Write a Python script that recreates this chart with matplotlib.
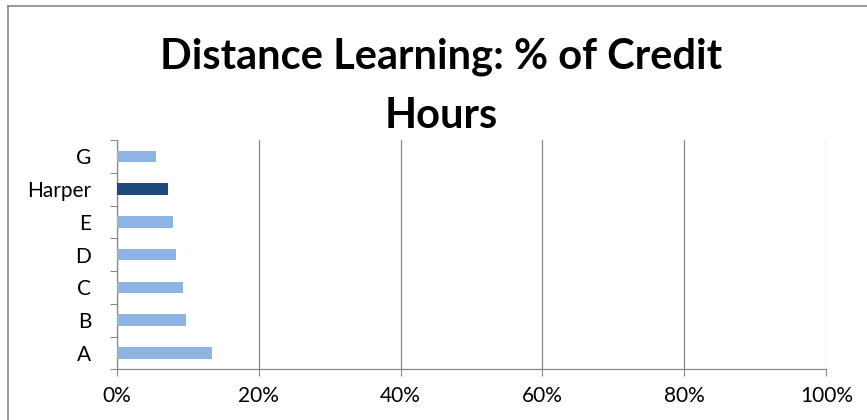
import matplotlib
matplotlib.use("Agg")
import matplotlib.pyplot as plt
from matplotlib.lines import Line2D
from matplotlib.ticker import FixedLocator, PercentFormatter

# data (bottom to top)
categories = ['A', 'B', 'C', 'D', 'E', 'Harper', 'G']
pct_credit = [13.5, 9.7, 9.4, 8.3, 8.0, 7.2, 5.6]
highlight = 'Harper'

light_blue = '#8DB4E2'
dark_blue = '#1F497D'
grid_gray = '#878787'

plt.rcParams['font.family'] = ['Lato', 'DejaVu Sans']

fig = plt.figure(figsize=(8.67, 4.2), dpi=100)
ax = fig.add_axes([116.7 / 867, 1 - 369.3 / 420, (826.3 - 116.7) / 867, (369.3 - 140) / 420])

colors = [dark_blue if c == highlight else light_blue for c in categories]
ypos = list(range(len(categories)))
ax.barh(ypos, pct_credit, height=0.35, color=colors, zorder=3)

ax.set_xlim(0, 100)
ax.set_ylim(-0.5, len(categories) - 0.5)
ax.set_xticks([0, 20, 40, 60, 80, 100])
ax.xaxis.set_major_formatter(PercentFormatter(decimals=0))
ax.set_yticks(ypos)
ax.set_yticklabels(categories)
ax.yaxis.set_minor_locator(FixedLocator([i - 0.5 for i in range(len(categories) + 1)]))

ax.tick_params(axis='y', which='major', length=0, pad=18.5, labelsize=15)
ax.tick_params(axis='y', which='minor', length=5, width=0.75, color=grid_gray, direction='out')
ax.tick_params(axis='x', which='major', length=5, width=0.75, color=grid_gray, pad=7, labelsize=15)

ax.grid(axis='x', color=grid_gray, linewidth=0.9, zorder=0)
ax.set_axisbelow(True)
for side in ['top', 'right']:
    ax.spines[side].set_visible(False)
for side in ['left', 'bottom']:
    ax.spines[side].set_color(grid_gray)
    ax.spines[side].set_linewidth(0.9)

title_x = 0.5 * (155 + 727) / 867
fig.text(title_x, 1 - 68.5 / 420, 'Distance Learning: % of Credit',
         ha='center', va='baseline', fontsize=30, fontweight='bold')
fig.text(title_x, 1 - 128.5 / 420, 'Hours',
         ha='center', va='baseline', fontsize=30, fontweight='bold')

# outer chart border (only left and top show in the crop)
fig.add_artist(Line2D([8 / 867, 8 / 867], [0, 1 - 6 / 420], color=grid_gray, linewidth=1.2))
fig.add_artist(Line2D([8 / 867, 1], [1 - 6 / 420, 1 - 6 / 420], color=grid_gray, linewidth=1.2))

fig.savefig('out.png', dpi=100)
